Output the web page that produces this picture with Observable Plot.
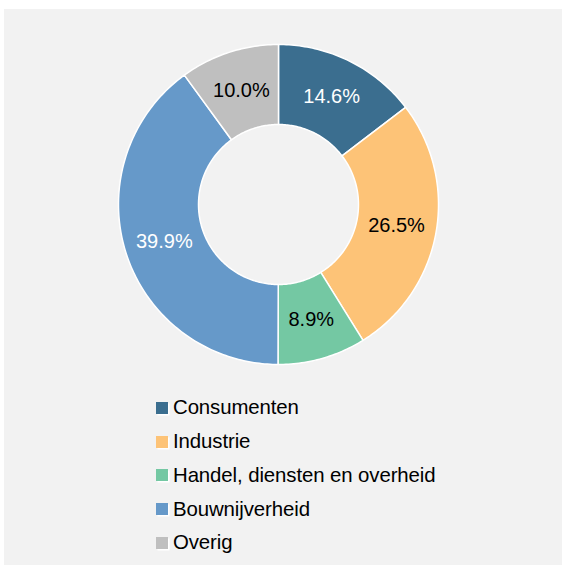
<!DOCTYPE html>
<html>
<head>
<meta charset="utf-8">
<script src="https://cdn.jsdelivr.net/npm/d3@7"></script>
<script src="https://cdn.jsdelivr.net/npm/@observablehq/plot@0.6"></script>
<style>
  html, body { margin: 0; padding: 0; background: #ffffff; }
  body { width: 566px; height: 569px; position: relative; overflow: hidden; font-family: "Liberation Sans", Arial, sans-serif; }
  #panel { position: absolute; left: 4px; top: 9px; width: 558px; height: 556px; background: #f2f2f2; }
  #chart { position: absolute; left: 0; top: 0; }
  #legend { position: absolute; left: 152px; top: 382px; }
  .row { display: flex; align-items: center; height: 33.75px; font-size: 20.4px; color: #000; letter-spacing: -0.1px; }
  .sw { width: 12px; height: 12px; margin-right: 5px; box-shadow: 1.5px 1.5px 0 #ffffff; }
</style>
</head>
<body>
<div id="panel"><div id="chart"></div><div id="legend"></div></div>
<script>
const categories = ["Consumenten", "Industrie", "Handel, diensten en overheid", "Bouwnijverheid", "Overig"];
const shares = [14.6, 26.5, 8.9, 39.9, 10.0];
const colors = ["#3b6e8f", "#fdc377", "#74c8a3", "#6699c9", "#bfbfbf"];

const W = 558, H = 370, R = 160, cx = 274, cy = 195;
const innerFrac = 0.5;

const pie = d3.pie().sort(null).value(d => d.value)(categories.map((c, i) => ({cat: c, value: shares[i]})));

// polygon outlines for each slice (in unit-radius data space, y upward)
const pts = [];
for (const p of pie) {
  const n = Math.max(8, Math.ceil((p.endAngle - p.startAngle) * 60));
  const ring = [];
  for (let k = 0; k <= n; k++) {
    const a = p.startAngle + (p.endAngle - p.startAngle) * k / n;
    ring.push([Math.sin(a), Math.cos(a)]);
  }
  for (let k = n; k >= 0; k--) {
    const a = p.startAngle + (p.endAngle - p.startAngle) * k / n;
    ring.push([innerFrac * Math.sin(a), innerFrac * Math.cos(a)]);
  }
  ring.push(ring[0]);
  ring.forEach(([x, y], j) => pts.push({cat: p.data.cat, x, y, j}));
}

const labels = pie.map(p => {
  const a = (p.startAngle + p.endAngle) / 2, r = (1 + innerFrac) / 2;
  return {cat: p.data.cat, x: r * Math.sin(a), y: r * Math.cos(a), text: p.data.value.toFixed(1) + "%",
          light: d3.lab(colors[categories.indexOf(p.data.cat)]).l < 70};
});

const chart = Plot.plot({
  width: W, height: H,
  margin: 0,
  style: {background: "transparent", fontFamily: "Liberation Sans, Arial, sans-serif"},
  x: {domain: [-cx / R, (W - cx) / R], axis: null},
  y: {domain: [-(H - cy) / R, cy / R], axis: null},
  color: {domain: categories, range: colors},
  marks: [
    Plot.line(pts, {x: "x", y: "y", z: "cat", fill: "cat", stroke: "#ffffff", strokeWidth: 1.5, strokeLinejoin: "round", curve: "linear"}),
    Plot.text(labels, {x: "x", y: "y", text: "text", fill: d => d.light ? "#ffffff" : "#000000", fontSize: 20})
  ]
});
document.getElementById("chart").appendChild(chart);

const legend = document.getElementById("legend");
categories.forEach((c, i) => {
  const row = document.createElement("div");
  row.className = "row";
  const sw = document.createElement("span");
  sw.className = "sw";
  sw.style.background = colors[i];
  const t = document.createElement("span");
  t.textContent = c;
  row.appendChild(sw); row.appendChild(t);
  legend.appendChild(row);
});
</script>
</body>
</html>
